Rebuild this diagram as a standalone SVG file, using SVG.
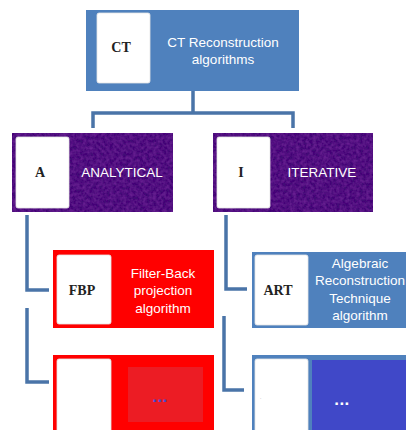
<svg xmlns="http://www.w3.org/2000/svg" width="406" height="430" viewBox="0 0 406 430">
<defs>
<style>
.lbl{font-family:"Liberation Sans","DejaVu Sans",sans-serif;font-size:13.5px;fill:#ffffff;text-anchor:middle}
.ab{font-family:"Liberation Serif","DejaVu Serif",serif;font-size:14px;font-weight:bold;fill:#222;text-anchor:middle}
.wh{fill:#ffffff;stroke:#e6e6e6;stroke-width:0.8}
.conn{fill:none;stroke:#4a74a8;stroke-width:3.5}
.purple{fill:#430e76}
.dots{font-family:"Liberation Sans",sans-serif;font-size:17px;font-weight:bold;text-anchor:middle;letter-spacing:0.5px}
</style>
<filter id="tex" x="0" y="0" width="1" height="1">
<feTurbulence type="fractalNoise" baseFrequency="0.3" numOctaves="2" seed="3" result="n"/>
<feColorMatrix in="n" type="matrix" values="0 0 0 0 0.18  0 0 0 0 0.02  0 0 0 0 0.34  0 0 0 1.2 -0.35" result="c"/>
<feComposite in="c" in2="SourceGraphic" operator="in" result="m"/>
<feMerge><feMergeNode in="SourceGraphic"/><feMergeNode in="m"/></feMerge>
</filter>
</defs>
<rect width="406" height="430" fill="#ffffff"/>
<g id="connectors">
<path class="conn" d="M193 91 V113 M93 128 V113 H293 V128"/>
<path class="conn" d="M27 215 V290 H49"/>
<path class="conn" d="M226 215 V289 H247"/>
<path class="conn" d="M27 308 V382 H49"/>
<path class="conn" d="M224 316 V390 H244"/>
</g>
<g id="ct">
<rect x="86" y="10" width="213" height="81" fill="#4f81bd"/>
<rect class="wh" x="97" y="13" width="53" height="70" rx="2"/>
<text class="ab" x="121" y="52">CT</text>
<text class="lbl" x="223" y="47">CT Reconstruction</text>
<text class="lbl" x="223" y="64">algorithms</text>
</g>
<g id="analytical">
<rect class="purple" x="12" y="133" width="161" height="79" filter="url(#tex)"/>
<rect class="wh" x="16" y="137" width="53" height="71" rx="2"/>
<text class="ab" x="40" y="177">A</text>
<text class="lbl" x="122" y="177">ANALYTICAL</text>
</g>
<g id="iterative">
<rect class="purple" x="213" y="133" width="160" height="79" filter="url(#tex)"/>
<rect class="wh" x="217" y="137" width="53" height="71" rx="2"/>
<text class="ab" x="241" y="177">I</text>
<text class="lbl" x="322" y="177">ITERATIVE</text>
</g>
<g id="fbp">
<rect x="53" y="250" width="161" height="78" fill="#ff0000"/>
<rect class="wh" x="57" y="255" width="54" height="69" rx="2"/>
<text class="ab" x="82" y="295">FBP</text>
<text class="lbl" x="163" y="278">Filter-Back</text>
<text class="lbl" x="163" y="295">projection</text>
<text class="lbl" x="163" y="313">algorithm</text>
</g>
<g id="art">
<rect x="252" y="252" width="160" height="76" fill="#4f81bd"/>
<rect class="wh" x="255" y="255" width="53" height="70" rx="2"/>
<text class="ab" x="278" y="295">ART</text>
<text class="lbl" x="360" y="268">Algebraic</text>
<text class="lbl" x="360" y="285">Reconstruction</text>
<text class="lbl" x="360" y="303">Technique</text>
<text class="lbl" x="360" y="320">algorithm</text>
</g>
<g id="more-analytical">
<rect x="53" y="355" width="161" height="80" fill="#ff0000"/>
<rect class="wh" x="57" y="359" width="54" height="75" rx="2"/>
<rect x="128" y="367" width="75" height="55" fill="#ec1c24"/>
<text class="dots" x="160" y="402" fill="#4a4ad0">...</text>
</g>
<g id="more-iterative">
<rect x="252" y="355" width="160" height="80" fill="#4f81bd"/>
<rect x="312" y="360" width="100" height="75" fill="#4048c8"/>
<rect class="wh" x="255" y="359" width="53" height="75" rx="2"/>
<text x="260" y="399" font-family="Liberation Sans, sans-serif" font-size="5" fill="#999999">.</text>
<text class="dots" x="342" y="405" fill="#ffffff">...</text>
</g>
</svg>
